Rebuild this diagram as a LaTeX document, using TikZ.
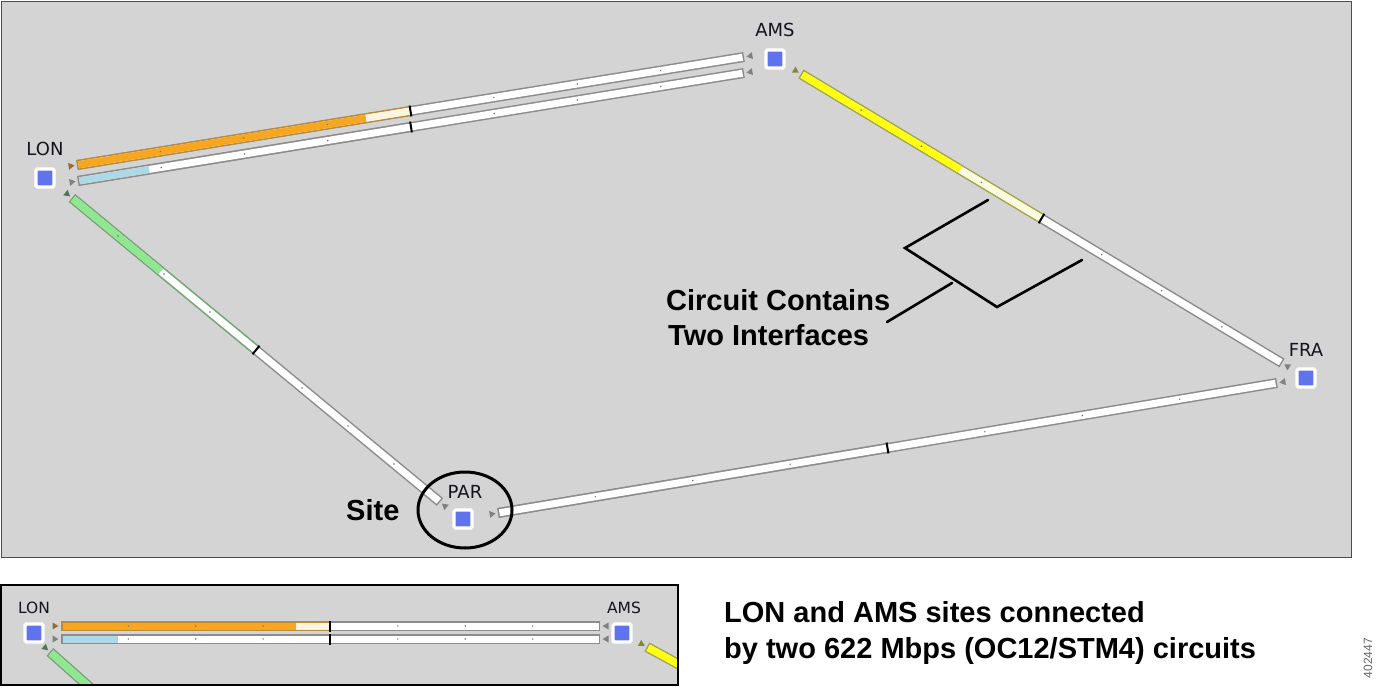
\documentclass[tikz,border=0pt]{standalone}
\usepackage{fontspec}
\setmainfont{Liberation Sans}
\newfontfamily\tah{DejaVu Sans}
\usetikzlibrary{calc}
\definecolor{bg}{HTML}{D4D4D4}
\definecolor{nodeblue}{HTML}{5F74EC}
\definecolor{orangebar}{HTML}{F7A620}
\definecolor{cream}{HTML}{FFF5DE}
\definecolor{lblue}{HTML}{ADD8E6}
\definecolor{lgreen}{HTML}{8FE88F}
\definecolor{ybar}{HTML}{FFFF10}
\definecolor{ycream}{HTML}{FAFADC}
\definecolor{bgray}{HTML}{8C8C8C}
\definecolor{borange}{HTML}{B98A3C}
\definecolor{bgreen}{HTML}{74A874}
\definecolor{byellow}{HTML}{A8A848}
\definecolor{labelc}{HTML}{141420}
\tikzset{
  site/.style={draw=white, fill=nodeblue, line width=3.2pt, minimum size=18pt, inner sep=0pt, rounded corners=1.5pt},
  sitelabel/.style={font=\tah\fontsize{18}{21}\selectfont, text=labelc, inner sep=0pt},
  callout/.style={font=\bfseries\fontsize{29}{34}\selectfont, inner sep=0pt, anchor=base west},
  pen/.style={line width=2.6pt, black, line cap=round, line join=miter},
}
% #1 start, #2 end, #3 border colour up to the split, #4 split fraction (rest gray)
\newcommand\barlink[4]{%
  \draw[line width=10pt,draw=bgray] (#1) -- (#2);
  \draw[line width=10pt,draw=#3] (#1) -- ($(#1)!#4!(#2)$);
  \path ($(#1)!1.5pt!(#2)$) coordinate (#1i) ($(#2)!1.5pt!(#1)$) coordinate (#2i);
  \draw[line width=7pt, white] (#1i) -- (#2i);}
\newcommand\seg[5]{\draw[line width=7pt,draw=#3] ($(#1i)!#4!(#2i)$) -- ($(#1i)!#5!(#2i)$);}
\newcommand\ticker[3]{%
  \path ($(#1)!#3!(#2)$) coordinate (tk);
  \draw[line width=2pt,black] ($(tk)!5.5pt!90:(#2)$) -- ($(tk)!5.5pt!-90:(#2)$);}
\newcommand\bardots[2]{%
  \foreach \f in {0.125,0.25,0.375,0.625,0.75,0.875}{\fill[black!55] ($(#1)!\f!(#2)$) circle (0.8pt);}}
\newcommand\tri[3]{%
  \path ($(#1)!-2.5pt!(#2)$) coordinate (tp) ($(#1)!-8.5pt!(#2)$) coordinate (tb);
  \fill[#3] (tp) -- ($(tb)!3.5pt!90:(tp)$) -- ($(tb)!3.5pt!-90:(tp)$) -- cycle;}
\begin{document}
\begin{tikzpicture}[x=1pt,y=-1pt]
\useasboundingbox[fill=white] (0,0) rectangle (1382,686);
% main frame
\draw[fill=bg, draw=black!70, line width=1pt] (1,1) rectangle (1351,557);

% link end coordinates
\coordinate (la) at (77,165);   \coordinate (lb) at (744,57);
\coordinate (ma) at (78,181);   \coordinate (mb) at (744,73);
\coordinate (pa) at (72,198);   \coordinate (pb) at (440,502);
\coordinate (aa) at (801,74);   \coordinate (ab) at (1282,363);
\coordinate (fa) at (498,513);  \coordinate (fb) at (1277,383);

% LON-AMS upper (orange)
\barlink{la}{lb}{borange}{0.5}
\seg{la}{lb}{orangebar}{0}{0.433}
\seg{la}{lb}{cream}{0.433}{0.5}
\bardots{la}{lb}
\ticker{la}{lb}{0.5}
% LON-AMS lower (light blue)
\barlink{ma}{mb}{bgray}{0.5}
\seg{ma}{mb}{lblue}{0}{0.105}
\bardots{ma}{mb}
\ticker{ma}{mb}{0.5}
% LON-PAR (green)
\barlink{pa}{pb}{bgreen}{0.5}
\seg{pa}{pb}{lgreen}{0}{0.24}
\bardots{pa}{pb}
\ticker{pa}{pb}{0.5}
% AMS-FRA (yellow)
\barlink{aa}{ab}{byellow}{0.5}
\seg{aa}{ab}{ybar}{0}{0.33}
\seg{aa}{ab}{ycream}{0.33}{0.5}
\bardots{aa}{ab}
\ticker{aa}{ab}{0.5}
% PAR-FRA
\barlink{fa}{fb}{bgray}{0.5}
\bardots{fa}{fb}
\ticker{fa}{fb}{0.5}

% small direction triangles
\tri{la}{lb}{borange!80!black}
\tri{ma}{mb}{black!50}
\tri{pa}{pb}{bgreen!70!black}
\tri{lb}{la}{black!50}
\tri{mb}{ma}{black!50}
\tri{aa}{ab}{byellow!80!black}
\tri{ab}{aa}{black!50}
\tri{fb}{fa}{black!50}
\tri{pb}{pa}{black!50}
\tri{fa}{fb}{black!50}

% sites
\node[site] (LON) at (45,178) {};
\node[site] (AMS) at (775,59) {};
\node[site] (FRA) at (1306,378) {};
\node[site] (PAR) at (463,519) {};
\node[sitelabel] (lLON) at (45,149) {LON};
\node[sitelabel] (lAMS) at (775,30) {AMS};
\node[sitelabel] (lFRA) at (1306,350) {FRA};
\node[sitelabel] (lPAR) at (465,492) {PAR};

% site ellipse
\draw[line width=3pt] (465,510) ellipse [x radius=47, y radius=38];
\node[callout] (site) at (346,520) {Site};

% bracket callout
\coordinate (b1) at (988,200);
\coordinate (b2) at (905,248);
\coordinate (b3) at (997,307);
\coordinate (b4) at (1082,260);
\coordinate (bm) at (952,283);
\coordinate (bt) at (887,322);
\draw[pen] (b1) -- (b2) -- (b3) -- (b4);
\draw[pen] (bm) -- (bt);
\node[callout] (c1) at (666,310) {Circuit Contains};
\node[callout] (c2) at (668,345) {Two Interfaces};

% inset
\begin{scope}
\clip (1,585) rectangle (678,685);
\fill[bg] (1,585) rectangle (678,685);
\coordinate (ia) at (61,626);  \coordinate (ib) at (600,626);
\coordinate (ja) at (61,639);  \coordinate (jb) at (600,639);
\coordinate (ga) at (50,652);  \coordinate (gb) at (95,692);
\coordinate (ya) at (647,647); \coordinate (yb) at (700,676);
\barlink{ia}{ib}{borange}{0.499}
\seg{ia}{ib}{orangebar}{0}{0.436}
\seg{ia}{ib}{cream}{0.436}{0.499}
\bardots{ia}{ib}
\ticker{ia}{ib}{0.499}
\barlink{ja}{jb}{bgray}{0.499}
\seg{ja}{jb}{lblue}{0}{0.104}
\bardots{ja}{jb}
\ticker{ja}{jb}{0.499}
\barlink{ga}{gb}{bgreen}{1}
\seg{ga}{gb}{lgreen}{0}{1}
\barlink{ya}{yb}{byellow}{1}
\seg{ya}{yb}{ybar}{0}{1}
\tri{ia}{ib}{borange!80!black}
\tri{ja}{jb}{black!50}
\tri{ib}{ia}{black!50}
\tri{jb}{ja}{black!50}
\tri{ga}{gb}{bgreen!70!black}
\tri{ya}{yb}{byellow!80!black}
\node[site] (iLON) at (34,633) {};
\node[site] (iAMS) at (622,633) {};
\node[sitelabel, font=\tah\fontsize{15.5}{18}\selectfont] (ilLON) at (34,608) {LON};
\node[sitelabel, font=\tah\fontsize{15.5}{18}\selectfont] (ilAMS) at (624,608) {AMS};
\end{scope}
\draw[line width=2pt, black] (1,585) rectangle (678,685);

\node[callout] (t1) at (724,622) {LON and AMS sites connected};
\node[callout] (t2) at (724,658) {by two 622 Mbps (OC12/STM4) circuits};
\node[rotate=90, font=\fontsize{12}{14}\selectfont, text=black!60, inner sep=0pt] (num) at (1368,658) {402447};
\end{tikzpicture}
\end{document}
